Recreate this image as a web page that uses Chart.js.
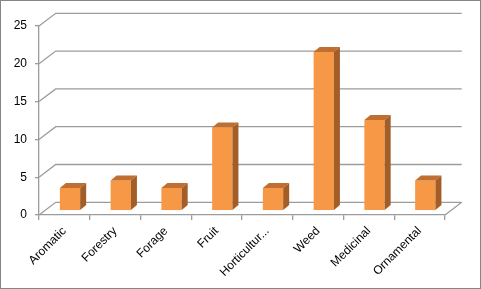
<!DOCTYPE html>
<html>
<head>
<meta charset="utf-8">
<script src="https://cdn.jsdelivr.net/npm/chart.js@4.4.0/dist/chart.umd.min.js"></script>
<style>
  body { margin: 0; background: #fff; }
  canvas { display: block; }
</style>
</head>
<body>
<canvas id="grafico" width="481" height="289"></canvas>
<script>
// categorias e valores
const categorias = ['Aromatic', 'Forestry', 'Forage', 'Fruit', 'Horticultur...', 'Weed', 'Medicinal', 'Ornamental'];
const valores = [3, 4, 3, 11, 3, 21, 12, 4];
const yTicks = [0, 5, 10, 15, 20, 25];

// profundidade do "3D"
const PAREDE_DX = 16.7, PAREDE_DY = -12.7;   // parede do fundo
const BARRA_DX = 5.65, BARRA_DY = -4.3;      // plano da frente das barras
const PROF_DX = 6, PROF_DY = -5;             // profundidade da barra
const corGrade = '#9c9c9c';

const plugin3d = {
    id: 'plugin3d',
    beforeDatasetsDraw(chart) {
        const ctx = chart.ctx;
        const area = chart.chartArea;
        const y = chart.scales.y;
        ctx.save();
        ctx.strokeStyle = corGrade;
        ctx.lineWidth = 1.3;
        yTicks.forEach(v => {
            const py = y.getPixelForValue(v);
            ctx.beginPath();
            ctx.moveTo(area.left, py);
            ctx.lineTo(area.left + PAREDE_DX, py + PAREDE_DY);
            ctx.lineTo(area.right + PAREDE_DX, py + PAREDE_DY);
            ctx.stroke();
        });
        // lateral direita do chao
        const p0 = y.getPixelForValue(0);
        ctx.beginPath();
        ctx.moveTo(area.right, p0);
        ctx.lineTo(area.right + PAREDE_DX, p0 + PAREDE_DY);
        ctx.stroke();
        ctx.restore();

        ctx.save();
        ctx.translate(BARRA_DX, BARRA_DY);
    },
    afterDatasetsDraw(chart) {
        const ctx = chart.ctx;
        const meta = chart.getDatasetMeta(0);
        meta.data.forEach(bar => {
            const l = bar.x - bar.width / 2;
            const r = bar.x + bar.width / 2;
            const t = bar.y;
            const b = bar.base;
            // topo
            ctx.fillStyle = '#bf6f30';
            ctx.beginPath();
            ctx.moveTo(l, t);
            ctx.lineTo(l + PROF_DX, t + PROF_DY);
            ctx.lineTo(r + PROF_DX, t + PROF_DY);
            ctx.lineTo(r, t);
            ctx.closePath();
            ctx.fill();
            // lado
            ctx.fillStyle = '#a35d27';
            ctx.beginPath();
            ctx.moveTo(r, t);
            ctx.lineTo(r + PROF_DX, t + PROF_DY);
            ctx.lineTo(r + PROF_DX, b + PROF_DY);
            ctx.lineTo(r, b);
            ctx.closePath();
            ctx.fill();
        });
        ctx.restore();
    },
    afterDraw(chart) {
        const ctx = chart.ctx;
        ctx.save();
        ctx.strokeStyle = '#868686';
        ctx.lineWidth = 1;
        ctx.strokeRect(0.5, 0.5, chart.width - 1, chart.height - 1);
        ctx.restore();
    }
};

document.addEventListener('DOMContentLoaded', function () {
    const ctx = document.getElementById('grafico').getContext('2d');
    new Chart(ctx, {
        type: 'bar',
        data: {
            labels: categorias,
            datasets: [{
                data: valores,
                backgroundColor: '#f79846',
                borderWidth: 0,
                categoryPercentage: 1,
                barPercentage: 0.4,
                clip: false
            }]
        },
        options: {
            responsive: false,
            animation: false,
            devicePixelRatio: 1,
            layout: { padding: { top: 26, right: 36, left: 0, bottom: 0 } },
            plugins: {
                legend: { display: false },
                tooltip: { enabled: false }
            },
            scales: {
                x: {
                    offset: true,
                    grid: { offset: true, drawOnChartArea: false, tickLength: 5, color: corGrade, lineWidth: 1.3 },
                    border: { color: corGrade, width: 1.3 },
                    ticks: {
                        autoSkip: false,
                        maxRotation: 45,
                        minRotation: 45,
                        padding: 4,
                        color: '#000',
                        font: { family: 'Liberation Sans', size: 12 }
                    },
                    afterFit(scale) { scale.height = 74; }
                },
                y: {
                    min: 0,
                    max: 25,
                    grid: { drawOnChartArea: false, tickLength: 4, color: corGrade, lineWidth: 1.3 },
                    border: { color: corGrade, width: 1.3 },
                    ticks: {
                        stepSize: 5,
                        padding: 8,
                        color: '#000',
                        font: { family: 'Liberation Sans', size: 12 }
                    },
                    afterFit(scale) { scale.width = 39; }
                }
            }
        },
        plugins: [plugin3d]
    });
});
</script>
</body>
</html>
